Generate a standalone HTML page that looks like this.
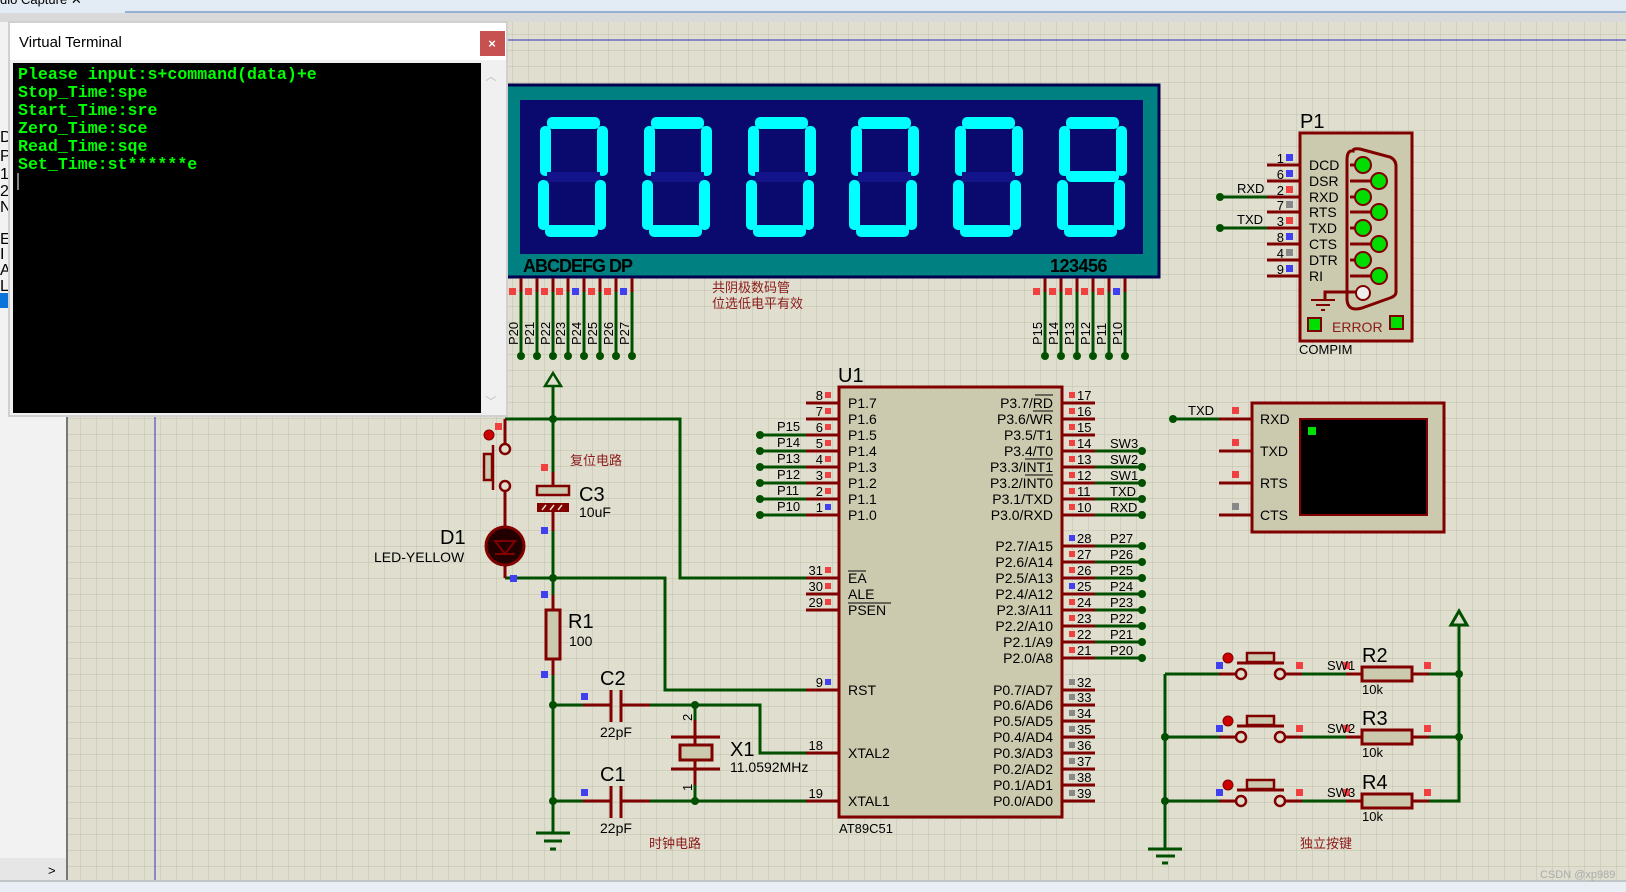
<!DOCTYPE html>
<html><head><meta charset="utf-8"><style>
html,body{margin:0;padding:0;background:#e0dfcf;}
svg{display:block;font-family:"Liberation Sans","Noto Sans CJK SC",sans-serif;}
.w{stroke:#005000;stroke-width:3;fill:none}
.r{stroke:#800000;stroke-width:3;fill:none}
.t{font-size:14px;fill:#000}
.s{font-size:13px;fill:#000}
.cn{font-family:"Noto Sans CJK SC",sans-serif;font-size:13px;fill:#8b1a1a}
.big{font-size:20px;fill:#000}
.seg{fill:#00ffff}
.off{fill:#14148a}
</style></head><body>
<svg width="1626" height="892" viewBox="0 0 1626 892" xmlns="http://www.w3.org/2000/svg">
<defs>
<pattern id="g" width="16" height="16" patternUnits="userSpaceOnUse" x="1" y="3">
<path d="M16 0V16M0 16H16" stroke="#c6c5b2" stroke-width="1.2" fill="none"/>
</pattern>
<g id="d0"><rect class="seg" x="27" y="117" width="53" height="12" rx="5"/><rect class="seg" x="20" y="126" width="11" height="50" rx="5"/><rect class="seg" x="77" y="126" width="11" height="50" rx="5"/><rect class="off" x="27" y="172" width="53" height="10"/><rect class="seg" x="18" y="180" width="11" height="50" rx="5"/><rect class="seg" x="75" y="180" width="11" height="50" rx="5"/><rect class="seg" x="25" y="225" width="53" height="12" rx="5"/></g>
</defs>
<rect width="1626" height="892" fill="#e0dfcf"/>
<rect x="67" y="22" width="1559" height="858" fill="url(#g)"/>
<rect x="0" y="0" width="1626" height="13" fill="#e3ecf5"/>
<line x1="125" y1="12" x2="1626" y2="12" stroke="#7a9cc6" stroke-width="1.5"/>
<rect x="0" y="13" width="1626" height="9" fill="#d9d9d9"/>
<text x="0" y="4" class="s" fill="#223">dio Capture  ✕</text>
<line x1="67" y1="40" x2="1626" y2="40" stroke="#3030c0" stroke-width="1"/>
<line x1="155" y1="22" x2="155" y2="880" stroke="#3030c0" stroke-width="1"/>
<rect x="0" y="22" width="66" height="858" fill="#f2f2f2"/>
<line x1="67" y1="22" x2="67" y2="880" stroke="#777" stroke-width="2"/>
<g font-size="16" fill="#000"><text x="0" y="142">DI</text><text x="0" y="161">P2</text><text x="0" y="179">1</text><text x="0" y="196">2</text><text x="0" y="212">N</text><text x="0" y="244">EC</text><text x="0" y="259">I</text><text x="0" y="275">AL</text><text x="0" y="291">LL</text></g>
<rect x="0" y="293" width="10" height="15" fill="#0a74da"/>
<rect x="0" y="858" width="66" height="22" fill="#e6e6e6"/><text x="48" y="875" class="s">&gt;</text>
<rect x="0" y="880" width="1626" height="12" fill="#e8eef4"/>
<line x1="0" y1="881" x2="1626" y2="881" stroke="#999"/>
<text x="1540" y="878" font-size="11" fill="#aaa">CSDN @xp989</text>

<rect x="505" y="85" width="654" height="192" fill="#008080" stroke="#000050" stroke-width="3"/>
<rect x="520" y="100" width="623" height="154" fill="#0a0a6e"/>
<use href="#d0" x="520"/><use href="#d0" x="624"/><use href="#d0" x="728"/><use href="#d0" x="831"/><use href="#d0" x="935"/>
<g transform="translate(1039,0)"><rect class="seg" x="27" y="117" width="53" height="12" rx="5"/><rect class="seg" x="20" y="126" width="11" height="50" rx="5"/><rect class="seg" x="77" y="126" width="11" height="50" rx="5"/><rect class="seg" x="27" y="171" width="53" height="11" rx="5"/><rect class="seg" x="18" y="180" width="11" height="50" rx="5"/><rect class="seg" x="75" y="180" width="11" height="50" rx="5"/><rect class="seg" x="25" y="225" width="53" height="12" rx="5"/></g>
<text x="523" y="272" font-size="18" font-weight="bold" letter-spacing="-1" fill="#000">ABCDEFG  DP</text>
<text x="1050" y="272" font-size="18" font-weight="bold" letter-spacing="-0.5" fill="#000">123456</text>
<text x="712" y="292" class="cn">共阴极数码管</text>
<text x="712" y="308" class="cn">位选低电平有效</text>
<g class="r"><path d="M521 278V292M537 278V292M553 278V292M568 278V292M584 278V292M600 278V292M616 278V292M632 278V292M1045 278V292M1061 278V292M1077 278V292M1093 278V292M1109 278V292M1125 278V292"/></g>
<g class="w"><path d="M521 292V356M537 292V356M553 292V356M568 292V356M584 292V356M600 292V356M616 292V356M632 292V356M1045 292V356M1061 292V356M1077 292V356M1093 292V356M1109 292V356M1125 292V356"/></g>
<g fill="#f04040"><rect x="509" y="288" width="7" height="7"/><rect x="525" y="288" width="7" height="7"/><rect x="541" y="288" width="7" height="7"/><rect x="556" y="288" width="7" height="7"/><rect x="588" y="288" width="7" height="7"/><rect x="604" y="288" width="7" height="7"/><rect x="1033" y="288" width="7" height="7"/><rect x="1049" y="288" width="7" height="7"/><rect x="1065" y="288" width="7" height="7"/><rect x="1081" y="288" width="7" height="7"/><rect x="1097" y="288" width="7" height="7"/></g>
<g fill="#4040f0"><rect x="572" y="288" width="7" height="7"/><rect x="620" y="288" width="7" height="7"/><rect x="1113" y="288" width="7" height="7"/></g>
<g fill="#005000"><circle cx="521" cy="356" r="4"/><circle cx="537" cy="356" r="4"/><circle cx="553" cy="356" r="4"/><circle cx="568" cy="356" r="4"/><circle cx="584" cy="356" r="4"/><circle cx="600" cy="356" r="4"/><circle cx="616" cy="356" r="4"/><circle cx="632" cy="356" r="4"/><circle cx="1045" cy="356" r="4"/><circle cx="1061" cy="356" r="4"/><circle cx="1077" cy="356" r="4"/><circle cx="1093" cy="356" r="4"/><circle cx="1109" cy="356" r="4"/><circle cx="1125" cy="356" r="4"/></g>
<g class="s">
<text transform="translate(518,345) rotate(-90)">P20</text><text transform="translate(534,345) rotate(-90)">P21</text><text transform="translate(550,345) rotate(-90)">P22</text><text transform="translate(565,345) rotate(-90)">P23</text><text transform="translate(581,345) rotate(-90)">P24</text><text transform="translate(597,345) rotate(-90)">P25</text><text transform="translate(613,345) rotate(-90)">P26</text><text transform="translate(629,345) rotate(-90)">P27</text>
<text transform="translate(1042,345) rotate(-90)">P15</text><text transform="translate(1058,345) rotate(-90)">P14</text><text transform="translate(1074,345) rotate(-90)">P13</text><text transform="translate(1090,345) rotate(-90)">P12</text><text transform="translate(1106,345) rotate(-90)">P11</text><text transform="translate(1122,345) rotate(-90)">P10</text>
</g>

<text x="838" y="382" class="big">U1</text>
<rect x="839" y="387" width="223" height="430" fill="#cbcaae" stroke="#800000" stroke-width="3"/>
<text x="839" y="833" class="s">AT89C51</text>
<g class="r"><path d="M806 403H839M806 419H839M806 435H839M806 451H839M806 467H839M806 483H839M806 499H839M806 515H839M806 578H839M806 594H839M806 610H839M806 690H839M806 753H839M806 801H839"/>
<path d="M1062 403H1095M1062 419H1095M1062 435H1095M1062 451H1095M1062 467H1095M1062 483H1095M1062 499H1095M1062 515H1095M1062 546H1095M1062 562H1095M1062 578H1095M1062 594H1095M1062 610H1095M1062 626H1095M1062 642H1095M1062 658H1095M1062 690H1095M1062 705H1095M1062 721H1095M1062 737H1095M1062 753H1095M1062 769H1095M1062 785H1095M1062 801H1095"/></g>
<g class="w"><path d="M760 435H806M760 451H806M760 467H806M760 483H806M760 499H806M760 515H806"/>
<path d="M1095 451H1142M1095 467H1142M1095 483H1142M1095 499H1142M1095 515H1142M1095 546H1142M1095 562H1142M1095 578H1142M1095 594H1142M1095 610H1142M1095 626H1142M1095 642H1142M1095 658H1142"/></g>
<g fill="#005000"><circle cx="760" cy="435" r="4"/><circle cx="760" cy="451" r="4"/><circle cx="760" cy="467" r="4"/><circle cx="760" cy="483" r="4"/><circle cx="760" cy="499" r="4"/><circle cx="760" cy="515" r="4"/>
<circle cx="1142" cy="451" r="4"/><circle cx="1142" cy="467" r="4"/><circle cx="1142" cy="483" r="4"/><circle cx="1142" cy="499" r="4"/><circle cx="1142" cy="515" r="4"/><circle cx="1142" cy="546" r="4"/><circle cx="1142" cy="562" r="4"/><circle cx="1142" cy="578" r="4"/><circle cx="1142" cy="594" r="4"/><circle cx="1142" cy="610" r="4"/><circle cx="1142" cy="626" r="4"/><circle cx="1142" cy="642" r="4"/><circle cx="1142" cy="658" r="4"/></g>
<g class="s" text-anchor="end"><text x="823" y="400">8</text><text x="823" y="416">7</text><text x="823" y="432">6</text><text x="823" y="448">5</text><text x="823" y="464">4</text><text x="823" y="480">3</text><text x="823" y="496">2</text><text x="823" y="512">1</text><text x="823" y="575">31</text><text x="823" y="591">30</text><text x="823" y="607">29</text><text x="823" y="687">9</text><text x="823" y="750">18</text><text x="823" y="798">19</text></g>
<g fill="#f04040"><rect x="825" y="392" width="6" height="6"/><rect x="825" y="408" width="6" height="6"/><rect x="825" y="424" width="6" height="6"/><rect x="825" y="440" width="6" height="6"/><rect x="825" y="456" width="6" height="6"/><rect x="825" y="472" width="6" height="6"/><rect x="825" y="488" width="6" height="6"/><rect x="825" y="567" width="6" height="6"/><rect x="825" y="583" width="6" height="6"/><rect x="825" y="599" width="6" height="6"/></g>
<g fill="#4040f0"><rect x="825" y="504" width="6" height="6"/><rect x="825" y="679" width="6" height="6"/></g>
<g class="s"><text x="777" y="431">P15</text><text x="777" y="447">P14</text><text x="777" y="463">P13</text><text x="777" y="479">P12</text><text x="777" y="495">P11</text><text x="777" y="511">P10</text></g>
<g class="t"><text x="848" y="408">P1.7</text><text x="848" y="424">P1.6</text><text x="848" y="440">P1.5</text><text x="848" y="456">P1.4</text><text x="848" y="472">P1.3</text><text x="848" y="488">P1.2</text><text x="848" y="504">P1.1</text><text x="848" y="520">P1.0</text>
<text x="848" y="583">EA</text><text x="848" y="599">ALE</text><text x="848" y="615">PSEN</text><text x="848" y="695">RST</text><text x="848" y="758">XTAL2</text><text x="848" y="806">XTAL1</text></g>
<path d="M848 571H866M848 603H891" stroke="#000" stroke-width="1"/>
<g class="t" text-anchor="end"><text x="1053" y="408">P3.7/RD</text><text x="1053" y="424">P3.6/WR</text><text x="1053" y="440">P3.5/T1</text><text x="1053" y="456">P3.4/T0</text><text x="1053" y="472">P3.3/INT1</text><text x="1053" y="488">P3.2/INT0</text><text x="1053" y="504">P3.1/TXD</text><text x="1053" y="520">P3.0/RXD</text>
<text x="1053" y="551">P2.7/A15</text><text x="1053" y="567">P2.6/A14</text><text x="1053" y="583">P2.5/A13</text><text x="1053" y="599">P2.4/A12</text><text x="1053" y="615">P2.3/A11</text><text x="1053" y="631">P2.2/A10</text><text x="1053" y="647">P2.1/A9</text><text x="1053" y="663">P2.0/A8</text>
<text x="1053" y="695">P0.7/AD7</text><text x="1053" y="710">P0.6/AD6</text><text x="1053" y="726">P0.5/AD5</text><text x="1053" y="742">P0.4/AD4</text><text x="1053" y="758">P0.3/AD3</text><text x="1053" y="774">P0.2/AD2</text><text x="1053" y="790">P0.1/AD1</text><text x="1053" y="806">P0.0/AD0</text></g>
<path d="M1035 395H1053M1033 411H1053M1025 459H1053M1025 475H1053" stroke="#000" stroke-width="1"/>
<g class="s"><text x="1077" y="400">17</text><text x="1077" y="416">16</text><text x="1077" y="432">15</text><text x="1077" y="448">14</text><text x="1077" y="464">13</text><text x="1077" y="480">12</text><text x="1077" y="496">11</text><text x="1077" y="512">10</text>
<text x="1077" y="543">28</text><text x="1077" y="559">27</text><text x="1077" y="575">26</text><text x="1077" y="591">25</text><text x="1077" y="607">24</text><text x="1077" y="623">23</text><text x="1077" y="639">22</text><text x="1077" y="655">21</text>
<text x="1077" y="687">32</text><text x="1077" y="702">33</text><text x="1077" y="718">34</text><text x="1077" y="734">35</text><text x="1077" y="750">36</text><text x="1077" y="766">37</text><text x="1077" y="782">38</text><text x="1077" y="798">39</text>
<text x="1110" y="448">SW3</text><text x="1110" y="464">SW2</text><text x="1110" y="480">SW1</text><text x="1110" y="496">TXD</text><text x="1110" y="512">RXD</text>
<text x="1110" y="543">P27</text><text x="1110" y="559">P26</text><text x="1110" y="575">P25</text><text x="1110" y="591">P24</text><text x="1110" y="607">P23</text><text x="1110" y="623">P22</text><text x="1110" y="639">P21</text><text x="1110" y="655">P20</text></g>
<g fill="#f04040"><rect x="1069" y="392" width="6" height="6"/><rect x="1069" y="408" width="6" height="6"/><rect x="1069" y="424" width="6" height="6"/><rect x="1069" y="440" width="6" height="6"/><rect x="1069" y="456" width="6" height="6"/><rect x="1069" y="472" width="6" height="6"/><rect x="1069" y="488" width="6" height="6"/><rect x="1069" y="504" width="6" height="6"/><rect x="1069" y="551" width="6" height="6"/><rect x="1069" y="567" width="6" height="6"/><rect x="1069" y="599" width="6" height="6"/><rect x="1069" y="615" width="6" height="6"/><rect x="1069" y="631" width="6" height="6"/><rect x="1069" y="647" width="6" height="6"/></g>
<g fill="#4040f0"><rect x="1069" y="535" width="6" height="6"/><rect x="1069" y="583" width="6" height="6"/></g>
<g fill="#888"><rect x="1069" y="679" width="6" height="6"/><rect x="1069" y="694" width="6" height="6"/><rect x="1069" y="710" width="6" height="6"/><rect x="1069" y="726" width="6" height="6"/><rect x="1069" y="742" width="6" height="6"/><rect x="1069" y="758" width="6" height="6"/><rect x="1069" y="774" width="6" height="6"/><rect x="1069" y="790" width="6" height="6"/></g>

<path class="w" d="M553 419V386M505 419H680V578H806M505 578H665V690H806M553 419V486M553 512V578V610M553 659V833M553 705H611M621 705H760V753H806M553 801H611M621 801H806M695 705V737M695 769V801"/>
<path d="M545 386L553 373L561 386Z" fill="none" stroke="#005000" stroke-width="2.5"/>
<g fill="#005000"><circle cx="553" cy="419" r="4"/><circle cx="553" cy="578" r="4"/><circle cx="553" cy="705" r="4"/><circle cx="553" cy="801" r="4"/><circle cx="695" cy="705" r="4"/><circle cx="695" cy="801" r="4"/></g>
<path class="r" d="M505 419V445M505 490V527M505 565V578"/>
<circle cx="505" cy="449" r="5" fill="#e0dfcf" stroke="#800000" stroke-width="2.5"/>
<circle cx="505" cy="486" r="5" fill="#e0dfcf" stroke="#800000" stroke-width="2.5"/>
<rect x="484" y="454" width="8" height="26" fill="#cbcaae" stroke="#800000" stroke-width="2.5"/>
<path d="M493 445V490" stroke="#800000" stroke-width="2.5"/>
<circle cx="489" cy="435" r="5" fill="#c00" stroke="#800000"/>
<rect x="495" y="423" width="7" height="7" fill="#f04040"/>
<circle cx="505" cy="546" r="19" fill="#200" stroke="#800000" stroke-width="3"/>
<path d="M495 541H515L505 554ZM495 554H515" stroke="#800000" stroke-width="2" fill="none"/>
<rect x="510" y="575" width="7" height="7" fill="#4040f0"/>
<text x="440" y="544" class="big">D1</text><text x="374" y="562" class="t">LED-YELLOW</text>
<path class="r" d="M553 472V486M553 512V531"/>
<rect x="537" y="486" width="32" height="9" fill="#cbcaae" stroke="#800000" stroke-width="2.5"/>
<rect x="537" y="503" width="32" height="9" fill="#800000"/>
<path d="M542 510l4-5M550 510l4-5M558 510l4-5" stroke="#e0dfcf" stroke-width="1.5"/>
<rect x="541" y="464" width="7" height="7" fill="#f04040"/><rect x="541" y="527" width="7" height="7" fill="#4040f0"/>
<text x="579" y="501" class="big">C3</text><text x="579" y="517" class="t">10uF</text>
<text x="570" y="465" class="cn">复位电路</text>
<path class="r" d="M553 595V610M553 659V675"/>
<rect x="546" y="610" width="14" height="49" fill="#cbcaae" stroke="#800000" stroke-width="3"/>
<rect x="541" y="591" width="7" height="7" fill="#4040f0"/><rect x="541" y="671" width="7" height="7" fill="#4040f0"/>
<text x="568" y="628" class="big">R1</text><text x="569" y="646" class="t">100</text>
<path class="r" d="M583 705H611M621 705H650M583 801H611M621 801H650M611 690V722M621 690V722M611 786V818M621 786V818"/>
<rect x="581" y="693" width="7" height="7" fill="#4040f0"/><rect x="581" y="789" width="7" height="7" fill="#4040f0"/>
<text x="600" y="685" class="big">C2</text><text x="600" y="737" class="t">22pF</text>
<text x="600" y="781" class="big">C1</text><text x="600" y="833" class="t">22pF</text>
<path class="r" d="M695 720V745M695 760V785M671 737H720M671 769H720"/>
<rect x="680" y="745" width="32" height="15" fill="#cbcaae" stroke="#800000" stroke-width="3"/>
<text transform="translate(692,721) rotate(-90)" class="s">2</text>
<text transform="translate(692,791) rotate(-90)" class="s">1</text>
<text x="730" y="756" class="big">X1</text><text x="730" y="772" class="t">11.0592MHz</text>
<text x="649" y="848" class="cn">时钟电路</text>
<path d="M536 833H570M544 841H562M550 849H556" stroke="#005000" stroke-width="3"/>

<text x="1300" y="128" class="big">P1</text>
<rect x="1300" y="133" width="112" height="208" fill="#cbcaae" stroke="#800000" stroke-width="3"/>
<path class="r" d="M1267 165H1300M1267 181H1300M1267 197H1300M1267 212H1300M1267 228H1300M1267 244H1300M1267 260H1300M1267 276H1300"/>
<path class="w" d="M1220 197H1267M1220 228H1267"/>
<circle cx="1220" cy="197" r="4" fill="#005000"/><circle cx="1220" cy="228" r="4" fill="#005000"/>
<text x="1237" y="193" class="s">RXD</text><text x="1237" y="224" class="s">TXD</text>
<g class="s" text-anchor="end"><text x="1284" y="163">1</text><text x="1284" y="179">6</text><text x="1284" y="195">2</text><text x="1284" y="210">7</text><text x="1284" y="226">3</text><text x="1284" y="242">8</text><text x="1284" y="258">4</text><text x="1284" y="274">9</text></g>
<g><rect x="1286" y="154" width="7" height="7" fill="#4040f0"/><rect x="1286" y="170" width="7" height="7" fill="#4040f0"/><rect x="1286" y="186" width="7" height="7" fill="#f04040"/><rect x="1286" y="201" width="7" height="7" fill="#888"/><rect x="1286" y="217" width="7" height="7" fill="#f04040"/><rect x="1286" y="233" width="7" height="7" fill="#4040f0"/><rect x="1286" y="249" width="7" height="7" fill="#888"/><rect x="1286" y="265" width="7" height="7" fill="#4040f0"/></g>
<g class="t"><text x="1309" y="170">DCD</text><text x="1309" y="186">DSR</text><text x="1309" y="202">RXD</text><text x="1309" y="217">RTS</text><text x="1309" y="233">TXD</text><text x="1309" y="249">CTS</text><text x="1309" y="265">DTR</text><text x="1309" y="281">RI</text></g>
<path d="M1353 151Q1353 148 1360 149L1390 157Q1396 160 1396 166V292Q1396 296 1390 298L1362 308Q1348 312 1347 300V160Q1347 150 1353 151Z" fill="none" stroke="#800000" stroke-width="3"/>
<path class="r" d="M1350 165H1363M1350 181H1379M1350 197H1363M1350 212H1379M1350 228H1363M1350 244H1379M1350 260H1363M1350 276H1379M1325 300V292H1363"/>
<g fill="#00dd00" stroke="#800000" stroke-width="2"><circle cx="1363" cy="165" r="8"/><circle cx="1379" cy="181" r="8"/><circle cx="1363" cy="197" r="8"/><circle cx="1379" cy="212" r="8"/><circle cx="1363" cy="228" r="8"/><circle cx="1379" cy="244" r="8"/><circle cx="1363" cy="260" r="8"/><circle cx="1379" cy="276" r="8"/></g>
<circle cx="1363" cy="293" r="7" fill="#eee" stroke="#800000" stroke-width="2"/>
<path d="M1311 300H1335M1316 305H1330M1321 310H1325" stroke="#800000" stroke-width="2"/>
<rect x="1308" y="318" width="13" height="13" fill="#00e000" stroke="#800000" stroke-width="2"/>
<rect x="1390" y="316" width="13" height="13" fill="#00e000" stroke="#800000" stroke-width="2"/>
<text x="1332" y="332" font-size="14" fill="#8b1a1a">ERROR</text>
<text x="1299" y="354" class="s">COMPIM</text>

<rect x="1252" y="403" width="192" height="129" fill="#cbcaae" stroke="#800000" stroke-width="3"/>
<rect x="1300" y="419" width="127" height="96" fill="#000" stroke="#800000" stroke-width="2"/>
<rect x="1308" y="427" width="8" height="8" fill="#00e000"/>
<path class="r" d="M1219 419H1252M1219 451H1252M1219 483H1252M1219 515H1252"/>
<path class="w" d="M1173 419H1219"/><circle cx="1173" cy="419" r="4" fill="#005000"/>
<text x="1188" y="415" class="s">TXD</text>
<rect x="1232" y="407" width="7" height="7" fill="#f04040"/><rect x="1232" y="439" width="7" height="7" fill="#f04040"/><rect x="1232" y="471" width="7" height="7" fill="#f04040"/><rect x="1232" y="503" width="7" height="7" fill="#888"/>
<g class="t"><text x="1260" y="424">RXD</text><text x="1260" y="456">TXD</text><text x="1260" y="488">RTS</text><text x="1260" y="520">CTS</text></g>

<path class="w" d="M1165 674V849M1165 674H1219M1165 737H1219M1165 801H1219M1302 674H1346M1302 737H1346M1302 801H1346M1429 674H1459M1429 737H1459M1429 801H1459V625"/>
<path d="M1451 625L1459 611L1467 625Z" fill="none" stroke="#005000" stroke-width="3"/>
<g fill="#005000"><circle cx="1165" cy="737" r="4"/><circle cx="1165" cy="801" r="4"/><circle cx="1459" cy="674" r="4"/><circle cx="1459" cy="737" r="4"/></g>
<path d="M1148 849H1182M1156 856H1175M1162 863H1168" stroke="#005000" stroke-width="3"/>
<g id="sw">
<path class="r" d="M1219 674H1237M1285 674H1302M1346 674H1362M1412 674H1429M1237 663H1284"/>
<circle cx="1241" cy="674" r="5" fill="#e0dfcf" stroke="#800000" stroke-width="2.5"/><circle cx="1280" cy="674" r="5" fill="#e0dfcf" stroke="#800000" stroke-width="2.5"/>
<rect x="1247" y="653" width="27" height="9" fill="#cbcaae" stroke="#800000" stroke-width="2.5"/>
<rect x="1362" y="667" width="50" height="14" fill="#cbcaae" stroke="#800000" stroke-width="3"/>
<circle cx="1228" cy="658" r="5" fill="#c00" stroke="#800000"/>
<rect x="1216" y="662" width="7" height="7" fill="#4040f0"/><rect x="1296" y="662" width="7" height="7" fill="#f04040"/><rect x="1343" y="662" width="7" height="7" fill="#f04040"/><rect x="1424" y="662" width="7" height="7" fill="#f04040"/>
</g>
<use href="#sw" y="63"/><use href="#sw" y="127"/>
<g class="s"><text x="1327" y="670">SW1</text><text x="1327" y="733">SW2</text><text x="1327" y="797">SW3</text></g>
<g class="big"><text x="1362" y="662">R2</text><text x="1362" y="725">R3</text><text x="1362" y="789">R4</text></g>
<g class="s"><text x="1362" y="694">10k</text><text x="1362" y="757">10k</text><text x="1362" y="821">10k</text></g>
<text x="1300" y="848" class="cn">独立按键</text>

<rect x="8" y="21" width="500" height="396" fill="#d0d0d0"/>
<rect x="10" y="23" width="496" height="392" fill="#f0f0f0"/>
<rect x="10" y="23" width="496" height="37" fill="#fff"/>
<text x="19" y="47" font-size="15" fill="#000">Virtual Terminal</text>
<rect x="480" y="31" width="25" height="25" fill="#c75050"/>
<text x="492" y="48" font-size="13" fill="#fff" text-anchor="middle" font-weight="bold">×</text>
<rect x="13" y="63" width="468" height="350" fill="#000"/>
<rect x="481" y="63" width="22" height="350" fill="#f0f0f0"/>
<text x="491" y="80" font-size="11" fill="#bbb" text-anchor="middle">︿</text>
<text x="491" y="405" font-size="11" fill="#bbb" text-anchor="middle">﹀</text>
<g font-family="Liberation Mono, monospace" font-size="16.6" fill="#00ff00" font-weight="bold">
<text x="18" y="79">Please input:s+command(data)+e</text>
<text x="18" y="97">Stop_Time:spe</text>
<text x="18" y="115">Start_Time:sre</text>
<text x="18" y="133">Zero_Time:sce</text>
<text x="18" y="151">Read_Time:sqe</text>
<text x="18" y="169">Set_Time:st******e</text>
</g>
<line x1="18" y1="173" x2="18" y2="190" stroke="#fff" stroke-width="1"/>
</svg>
</body></html>
